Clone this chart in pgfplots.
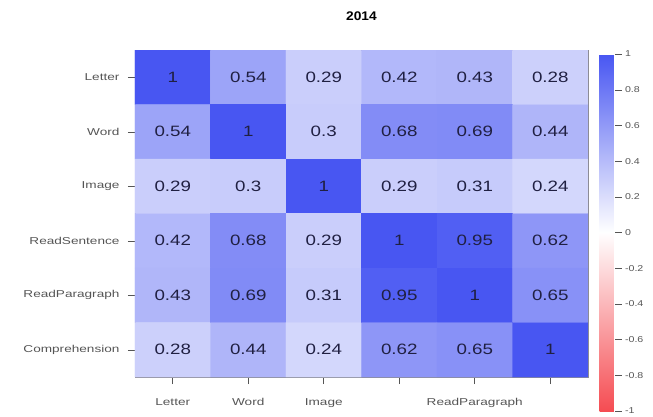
\documentclass[border=0pt]{standalone}
\usepackage{fontspec}
\setmainfont{Liberation Sans}
\usepackage{graphicx}
\usepackage{pgfplots}
\pgfplotsset{compat=1.18}
\definecolor{lblgray}{RGB}{85,85,85}
\definecolor{framegray}{RGB}{140,140,150}
\definecolor{numcol}{RGB}{32,32,66}
\newcommand{\wide}[1]{\scalebox{1.36}[1]{#1}}
\newcommand{\cb}[1]{\scalebox{1.25}[1]{#1}}
\begin{document}
\begin{tikzpicture}
\useasboundingbox (0,0) rectangle (653pt,-416pt);
\begin{axis}[
  at={(135pt,-377pt)}, anchor=south west,
  scale only axis, width=453pt, height=327pt,
  xmin=-0.5, xmax=5.5, ymin=-0.5, ymax=5.5,
  y dir=reverse,
  xtick={0,1,2,3,4,5},
  xticklabels={\wide{Letter},\wide{Word},\wide{Image},{},\wide{ReadParagraph},{}},
  ytick={0,1,2,3,4,5},
  yticklabels={\wide{Letter},\wide{Word},\wide{Image},\wide{ReadSentence},\wide{ReadParagraph},\wide{Comprehension}},
  xticklabel style={font=\fontsize{10}{11}\selectfont, text=lblgray, yshift=-11pt},
  yticklabel style={font=\fontsize{10}{11}\selectfont, text=lblgray, xshift=-5pt},
  tick align=outside, tick pos=left,
  major tick length=7pt,
  tick style={lblgray, line width=0.5pt},
  axis line style={framegray, line width=0.6pt},
  title={\scalebox{1.1}[1]{\textbf{2014}}},
  title style={font=\fontsize{12.5}{14}\selectfont, yshift=20pt},
  colormap={bwr}{rgb255(0)=(245,76,82) rgb255(1)=(255,255,255) rgb255(2)=(72,86,242)},
  point meta min=-1, point meta max=1,
  colorbar,
  colorbar style={
    at={(parent axis.north east)}, anchor=north west,
    xshift=3pt, yshift=-4pt,
    width=15pt, height=357pt,
    ytick={-1,-0.8,...,1.01},
    yticklabel pos=right, ytick pos=right,
    yticklabel={\cb{\pgfmathprintnumber{\tick}}},
    yticklabel style={font=\fontsize{8.5}{10}\selectfont, text=lblgray, xshift=0pt,
      /pgf/number format/fixed, /pgf/number format/assume math mode=true},
    tick align=outside, major tick length=7pt,
    tick style={lblgray, line width=0.4pt},
    axis line style={draw=none},
  },
  /pgf/number format/assume math mode=true,
]
\addplot[matrix plot*, mesh/cols=6, point meta=explicit, shader=flat corner] table[meta=c] {
x y c
0 0 1
1 0 0.54
2 0 0.29
3 0 0.42
4 0 0.43
5 0 0.28
0 1 0.54
1 1 1
2 1 0.3
3 1 0.68
4 1 0.69
5 1 0.44
0 2 0.29
1 2 0.3
2 2 1
3 2 0.29
4 2 0.31
5 2 0.24
0 3 0.42
1 3 0.68
2 3 0.29
3 3 1
4 3 0.95
5 3 0.62
0 4 0.43
1 4 0.69
2 4 0.31
3 4 0.95
4 4 1
5 4 0.65
0 5 0.28
1 5 0.44
2 5 0.24
3 5 0.62
4 5 0.65
5 5 1
};
\addplot[only marks, mark=none, point meta=explicit symbolic,
  nodes near coords={\scalebox{1.25}[1]{\pgfplotspointmeta}}, nodes near coords align={center},
  every node near coord/.append style={font=\fontsize{15}{17}\selectfont, text=numcol, anchor=center}]
  table[meta=t] {
x y t
0 0 1
1 0 0.54
2 0 0.29
3 0 0.42
4 0 0.43
5 0 0.28
0 1 0.54
1 1 1
2 1 0.3
3 1 0.68
4 1 0.69
5 1 0.44
0 2 0.29
1 2 0.3
2 2 1
3 2 0.29
4 2 0.31
5 2 0.24
0 3 0.42
1 3 0.68
2 3 0.29
3 3 1
4 3 0.95
5 3 0.62
0 4 0.43
1 4 0.69
2 4 0.31
3 4 0.95
4 4 1
5 4 0.65
0 5 0.28
1 5 0.44
2 5 0.24
3 5 0.62
4 5 0.65
5 5 1
};
\end{axis}
\end{tikzpicture}
\end{document}
